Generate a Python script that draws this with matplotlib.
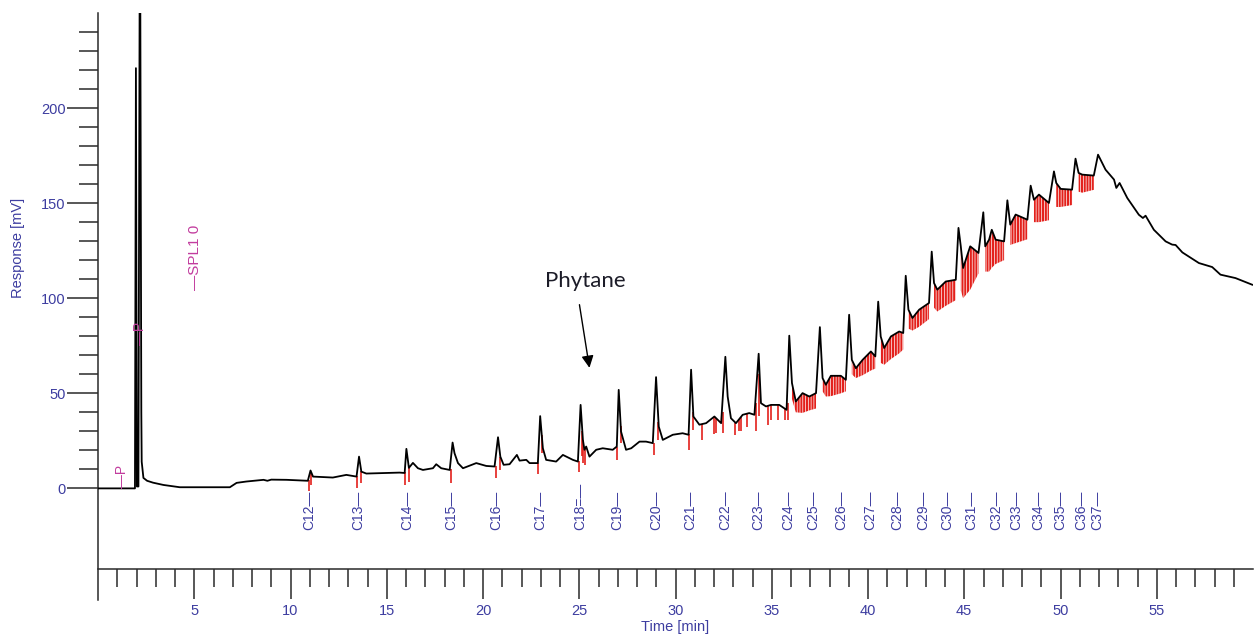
"""
Chromatogram (GC-FID trace) with n-alkane labels and the Phytane marker.
Values read off the reference report picture.
"""

import matplotlib
matplotlib.use("Agg")
import matplotlib.pyplot as plt
from matplotlib.ticker import FixedLocator

plt.rcParams["font.family"] = ["Liberation Sans", "DejaVu Sans"]
plt.rcParams["hatch.linewidth"] = 1.5

# ---------------------------------------------------------------------------
# Data
# ---------------------------------------------------------------------------
# detector trace: retention time [min] / response [mV]
trace_t = [
    0.0, 1.92, 1.97, 2.02, 2.10, 2.18, 2.25, 2.27, 2.36, 2.55, 2.86, 3.4, 4.25,
    6.85, 7.2, 7.7, 8.6, 8.8, 9.0, 9.8, 10.9, 11.04, 11.17, 12.2, 12.9, 13.43,
    13.56, 13.68, 13.94, 15.67, 15.93, 16.02, 16.15, 16.36, 16.62, 16.88, 17.4,
    17.57, 17.83, 18.27, 18.42, 18.52, 18.7, 18.96, 19.65, 20.17, 20.6, 20.78,
    20.9, 21.07, 21.38, 21.76, 21.9, 22.25, 22.42, 22.85, 22.97, 23.11, 23.28,
    23.8, 24.15, 24.67, 24.93, 25.07, 25.19, 25.27, 25.36, 25.53, 25.88, 26.22,
    26.74, 26.95, 27.05, 27.17, 27.43, 27.7, 28.13, 28.47, 28.82, 28.99, 29.13,
    29.34, 29.86, 30.37, 30.68, 30.81, 30.93, 31.24, 31.59, 32.02, 32.37, 32.59,
    32.71, 32.88, 33.14, 33.49, 33.83, 34.1, 34.32, 34.44, 34.7, 34.96, 35.39,
    35.77, 35.91, 36.05, 36.25, 36.6, 36.95, 37.3, 37.5, 37.64, 37.81, 38.07,
    38.59, 38.85, 39.02, 39.16, 39.37, 39.72, 40.15, 40.38, 40.53, 40.66, 40.84,
    41.19, 41.62, 41.83, 41.96, 42.1, 42.31, 42.66, 43.17, 43.31, 43.43, 43.6,
    44.04, 44.56, 44.7, 44.82, 44.94, 45.31, 45.74, 45.99, 46.09, 46.29, 46.43,
    46.63, 47.07, 47.24, 47.39, 47.67, 48.28, 48.45, 48.62, 48.88, 49.4, 49.66,
    49.78, 50.01, 50.6, 50.78, 50.94, 51.13, 51.73, 51.95, 52.34, 52.78, 52.9,
    53.07, 53.47, 54.07, 54.28, 54.42, 54.85, 55.46, 55.8, 55.98, 56.33, 57.19,
    57.88, 58.31, 59.09, 59.96,
]
trace_v = [
    0.0, 0.0, 221.0, 1.0, 1.0, 330.0, 40.0, 14.0, 5.5, 4.0, 3.0, 1.8, 0.6,
    0.6, 2.9, 3.6, 4.5, 4.0, 4.6, 4.5, 4.0, 9.4, 6.2, 5.7, 7.1, 6.2,
    16.7, 8.8, 7.8, 8.3, 8.1, 20.8, 10.8, 13.4, 10.6, 9.7, 10.6,
    12.7, 10.6, 9.7, 24.1, 18.5, 13.3, 10.6, 13.3, 11.8, 11.5, 26.9,
    16.7, 12.4, 12.7, 17.6, 14.6, 15.0, 13.3, 13.3, 38.0, 21.1, 15.0,
    14.1, 17.6, 15.0, 14.1, 43.9, 25.5, 20.3, 22.0, 16.7, 20.3, 21.1,
    20.3, 22.0, 51.8, 29.9, 20.3, 21.1, 24.6, 24.6, 23.8, 58.5, 32.5,
    25.5, 28.2, 29.0, 28.2, 62.4, 37.8, 33.5, 34.3, 37.8, 34.3, 69.2,
    48.3, 36.9, 34.3, 38.7, 39.6, 38.7, 70.8, 44.8, 43.1, 43.9, 43.9,
    41.3, 80.3, 55.4, 45.7, 50.1, 48.3, 50.1, 84.8, 58.0, 54.5, 59.2,
    59.2, 57.1, 91.3, 67.6, 63.2, 67.6, 72.0, 69.4, 98.2, 79.9, 73.8,
    79.9, 82.5, 81.7, 111.8, 94.0, 89.6, 94.0, 97.5, 124.5, 108.0, 104.5,
    108.8, 109.7, 137.0, 127.3, 115.9, 127.3, 123.8, 145.2, 127.3, 130.8, 136.0,
    130.8, 129.9, 151.5, 138.7, 144.0, 141.3, 159.2, 151.8, 154.5, 150.1, 166.7,
    160.6, 157.5, 157.1, 173.4, 165.9, 165.0, 164.5, 175.5, 167.6, 162.4, 158.0,
    160.6, 152.7, 143.9, 142.2, 143.4, 136.0, 129.9, 128.2, 128.0, 124.1, 118.5,
    116.4, 112.4, 110.6, 107.1,
]

# red integration drop lines: time, upper end, lower end
drop_t = [10.97, 11.08, 13.45, 13.64, 15.95, 16.14, 18.36, 20.68, 20.9, 22.88,
          23.07, 24.98, 25.12, 25.2, 25.32, 26.97, 27.15, 28.86, 29.1, 30.7,
          30.92, 31.4, 32.0, 32.1, 32.45, 33.1, 33.3, 33.38, 33.7, 34.2,
          34.36, 34.8, 34.95, 35.3, 35.7, 35.86]
drop_hi = [4.5, 8.0, 6.5, 9.0, 8.5, 11.0, 10.0, 12.0, 16.7, 13.5,
           28.0, 14.2, 30.0, 25.5, 21.0, 22.0, 33.0, 24.0, 35.0, 28.5,
           40.0, 34.0, 37.5, 37.0, 40.0, 34.5, 36.5, 37.5, 39.2, 45.0,
           60.0, 43.3, 43.9, 43.9, 41.5, 45.0]
drop_lo = [-1.5, 2.0, 0.3, 3.0, 1.8, 3.6, 3.0, 5.3, 9.7, 7.6,
           18.5, 8.5, 17.0, 13.4, 12.4, 15.0, 24.0, 17.6, 25.5, 20.3,
           30.8, 25.5, 28.5, 29.0, 29.0, 28.0, 30.0, 30.0, 32.5, 30.0,
           38.0, 33.4, 36.0, 36.0, 36.0, 36.0]

# dense red integration marks in the valleys of the late eluting part
band_t = [
    [36.05, 36.25, 36.6, 36.95, 37.3],
    [37.64, 37.81, 38.07, 38.59, 38.85],
    [39.16, 39.37, 39.72, 40.15, 40.38],
    [40.66, 40.84, 41.19, 41.62, 41.83],
    [42.1, 42.31, 42.66, 43.17],
    [43.43, 43.6, 44.04, 44.56],
    [44.82, 44.94, 45.31, 45.74],
    [46.09, 46.29, 46.43, 46.63, 47.07],
    [47.39, 47.67, 48.28],
    [48.62, 48.88, 49.4],
    [49.78, 50.01, 50.6],
    [50.94, 51.13, 51.73],
]
band_hi = [
    [55.4, 45.7, 50.1, 48.3, 50.1],
    [58.0, 54.5, 59.2, 59.2, 57.1],
    [67.6, 63.2, 67.6, 72.0, 69.4],
    [79.9, 73.8, 79.9, 82.5, 81.7],
    [94.0, 89.6, 94.0, 97.5],
    [108.0, 104.5, 108.8, 109.7],
    [127.3, 115.9, 127.3, 123.8],
    [127.3, 130.8, 136.0, 130.8, 129.9],
    [138.7, 144.0, 141.3],
    [151.8, 154.5, 150.1],
    [160.6, 157.5, 157.1],
    [165.9, 165.0, 164.5],
]
band_lo = [
    [47.0, 40.0, 39.7, 41.0, 42.0],
    [51.0, 48.3, 48.5, 50.0, 51.0],
    [60.0, 58.0, 59.5, 62.0, 63.0],
    [66.0, 65.0, 68.0, 71.0, 73.0],
    [84.0, 83.0, 85.0, 89.0],
    [95.0, 93.0, 96.0, 99.0],
    [104.0, 100.0, 104.5, 113.0],
    [114.0, 114.0, 116.0, 118.0, 120.0],
    [128.0, 129.0, 131.0],
    [140.0, 140.0, 141.0],
    [148.0, 148.0, 149.0],
    [156.0, 155.5, 157.0],
]

# n-alkane peak names and their expected retention times
alkane_names = ["C12", "C13", "C14", "C15", "C16", "C17", "C18=", "C19", "C20",
                "C21", "C22", "C23", "C24", "C25", "C26", "C27", "C28", "C29",
                "C30", "C31", "C32", "C33", "C34", "C35", "C36", "C37"]
alkane_t = [11.0, 13.54, 16.09, 18.37, 20.70, 22.99, 25.07, 26.98, 29.01,
            30.79, 32.56, 34.28, 35.88, 37.18, 38.61, 40.11, 41.51, 42.87,
            44.10, 45.35, 46.66, 47.70, 48.83, 50.0, 51.07, 51.89]

# pink event markers from the report
event_names = ["\u2014P", "\u2014P", "\u2014SPL1 0"]
event_t = [1.25, 2.18, 5.03]
event_v = [0.0, 75.5, 104.5]

phytane_t, phytane_v = 25.53, 63.4

BLUE = "#3d3da0"
PINK = "#c23c9e"
RED = "#e3201b"
AXIS = "#2a2a2a"

# ---------------------------------------------------------------------------
# Plot
# ---------------------------------------------------------------------------
fig = plt.figure(figsize=(12.55, 6.35), dpi=100)
ax = fig.add_axes([98 / 1255, 35 / 635, 1155 / 1255, 587 / 635])

ax.set_xlim(0, 60)
ax.set_ylim(-58.7, 250)

for t, lo, hi in zip(band_t, band_lo, band_hi):
    ax.fill_between(t, lo, hi, facecolor="none", edgecolor=RED, hatch="||||||",
                    lw=0, zorder=2)
ax.vlines(drop_t, drop_lo, drop_hi, color=RED, lw=1.2, zorder=2)
ax.plot(trace_t, trace_v, color="black", lw=1.3, zorder=3)

for name, t in zip(alkane_names, alkane_t):
    ax.text(t, -21.8, name + "\u2014", rotation=90, ha="center", va="bottom",
            color=BLUE, fontsize=10)

for name, t, v in zip(event_names, event_t, event_v):
    ax.text(t, v, name, rotation=90, ha="center", va="bottom", color=PINK,
            fontsize=11 if "SPL" in name else 10)

ax.text(25.3, 109, "Phytane", ha="center", va="center", fontsize=16,
        family=["Lato", "DejaVu Sans"], color="#1c1c28")
ax.annotate("", xy=(phytane_t, phytane_v), xytext=(25.01, 96.6),
            arrowprops=dict(arrowstyle="-|>", color="black", lw=1.0,
                            mutation_scale=18, shrinkA=0, shrinkB=0))

# axes styling, like the instrument report
for side in ("top", "right"):
    ax.spines[side].set_visible(False)
ax.spines["bottom"].set_position(("data", -42.6))
for side in ("left", "bottom"):
    ax.spines[side].set_color(AXIS)
    ax.spines[side].set_linewidth(1.1)

ax.xaxis.set_major_locator(FixedLocator(range(5, 60, 5)))
ax.xaxis.set_minor_locator(FixedLocator([m for m in range(1, 60) if m % 5]))
ax.yaxis.set_major_locator(FixedLocator(range(0, 201, 50)))
ax.yaxis.set_minor_locator(FixedLocator([m for m in range(10, 250, 10) if m % 50]))

ax.tick_params(axis="x", which="major", direction="out", length=21.6, width=1.1,
               color=AXIS, labelsize=10.5, labelcolor=BLUE, pad=3.5)
ax.tick_params(axis="x", which="minor", direction="out", length=13, width=1.1,
               color=AXIS)
ax.tick_params(axis="y", which="major", direction="out", length=22.3, width=1.1,
               color=AXIS, labelsize=10.5, labelcolor=BLUE, pad=1)
ax.tick_params(axis="y", which="minor", direction="out", length=13.7, width=1.1,
               color=AXIS)

ax.set_xlabel("Time [min]", color=BLUE, fontsize=10.5, labelpad=1)
ax.set_ylabel("Response [mV]", color=BLUE, fontsize=10.5)
ax.yaxis.set_label_coords(-0.063, 0.60)

fig.savefig("out.png", dpi=100)
print("[Plot] Saved: out.png")
